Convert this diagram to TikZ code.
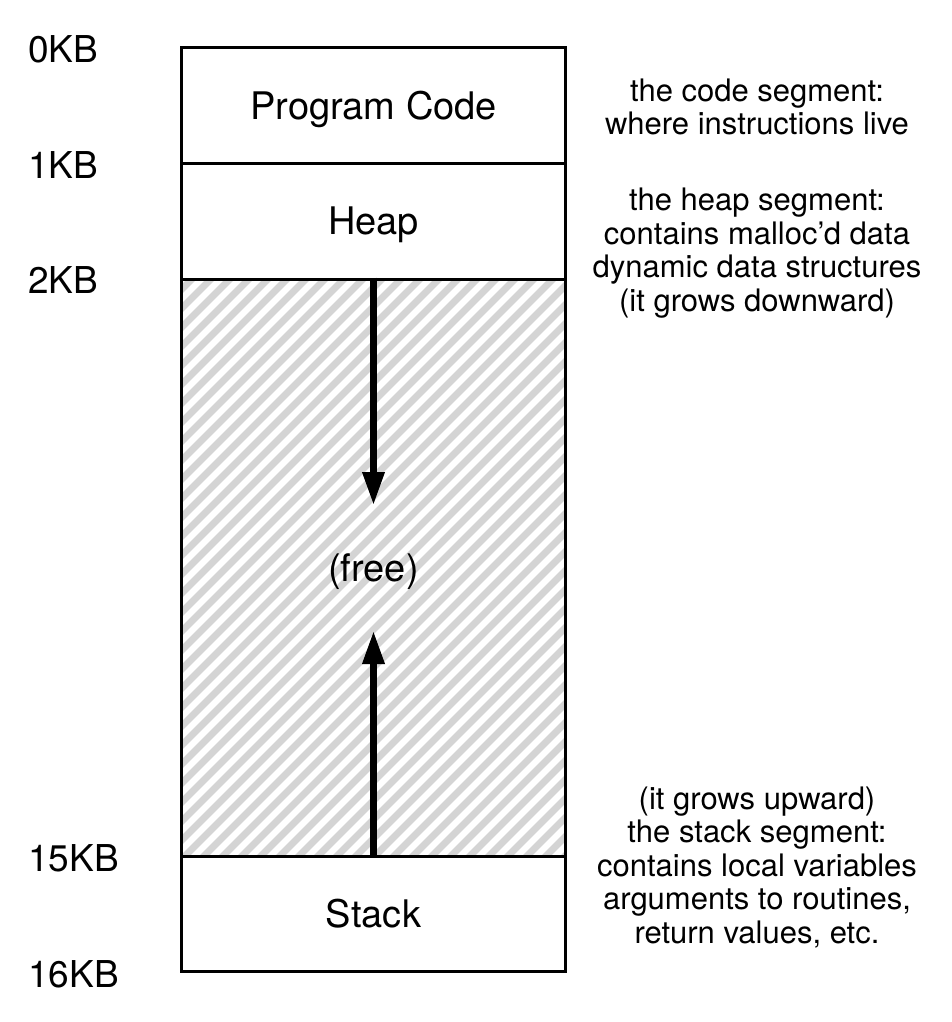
\documentclass[tikz,border=0pt]{standalone}
\usepackage{fontspec}
\setmainfont{TeX Gyre Heros}
\usetikzlibrary{arrows.meta}
\definecolor{hatchgray}{HTML}{D4D4D4}
\tikzset{
  seg/.style={draw=black, line width=3pt, minimum width=384pt, inner sep=0pt,
    font=\fontsize{38}{45}\selectfont, text height=27.3pt, text depth=0pt},
  kblabel/.style={anchor=base west, inner sep=0pt, font=\fontsize{37}{44}\selectfont},
  annot/.style={align=center, inner sep=0pt, font=\fontsize{31}{33.5}\selectfont},
  hatchline/.style={draw=hatchgray, line width=7pt},
  growarrow/.style={draw=black, line width=6.5pt, -{Triangle[length=33pt,width=21pt]}}
}
\begin{document}
\begin{tikzpicture}[x=1pt, y=-1pt]
\useasboundingbox (0,0) rectangle (952,1022);
% hatched free area
\begin{scope}
  \clip (181.5,279) rectangle (565.5,856);
  \foreach \k in {-33,...,22}
    \draw[hatchline] (181+19*\k,860) -- (181+19*\k+585,275);
\end{scope}
% memory segments
\node[seg, minimum height=115pt] (code) at (373.5,105.5) {Program Code};
\node[seg, minimum height=116pt] (heap) at (373.5,221) {Heap};
\node[seg, minimum height=577pt] (free) at (373.5,567.5) {(free)};
\node[seg, minimum height=115pt] (stack) at (373.5,913.5) {Stack};
% growth arrows
\coordinate (heaptip) at (373.5,505);
\coordinate (stacktip) at (373.5,631);
\draw[growarrow] (free.north) -- (heaptip);
\draw[growarrow] (free.south) -- (stacktip);
% address labels
\node[kblabel] (kb0) at (28,63) {0KB};
\node[kblabel] (kb1) at (28,178) {1KB};
\node[kblabel] (kb2) at (28,293) {2KB};
\node[kblabel] (kb15) at (28,871) {15KB};
\node[kblabel] (kb16) at (28,987) {16KB};
% annotations
\node[annot] (codenote) at (757,107) {the code segment:\\where instructions live};
\node[annot] (heapnote) at (757,253) {the heap segment:\\contains malloc’d data\\dynamic data structures\\(it grows downward)};
\node[annot] (stacknote) at (757,867) {(it grows upward)\\the stack segment:\\contains local variables\\arguments to routines,\\return values, etc.};
\end{tikzpicture}
\end{document}
